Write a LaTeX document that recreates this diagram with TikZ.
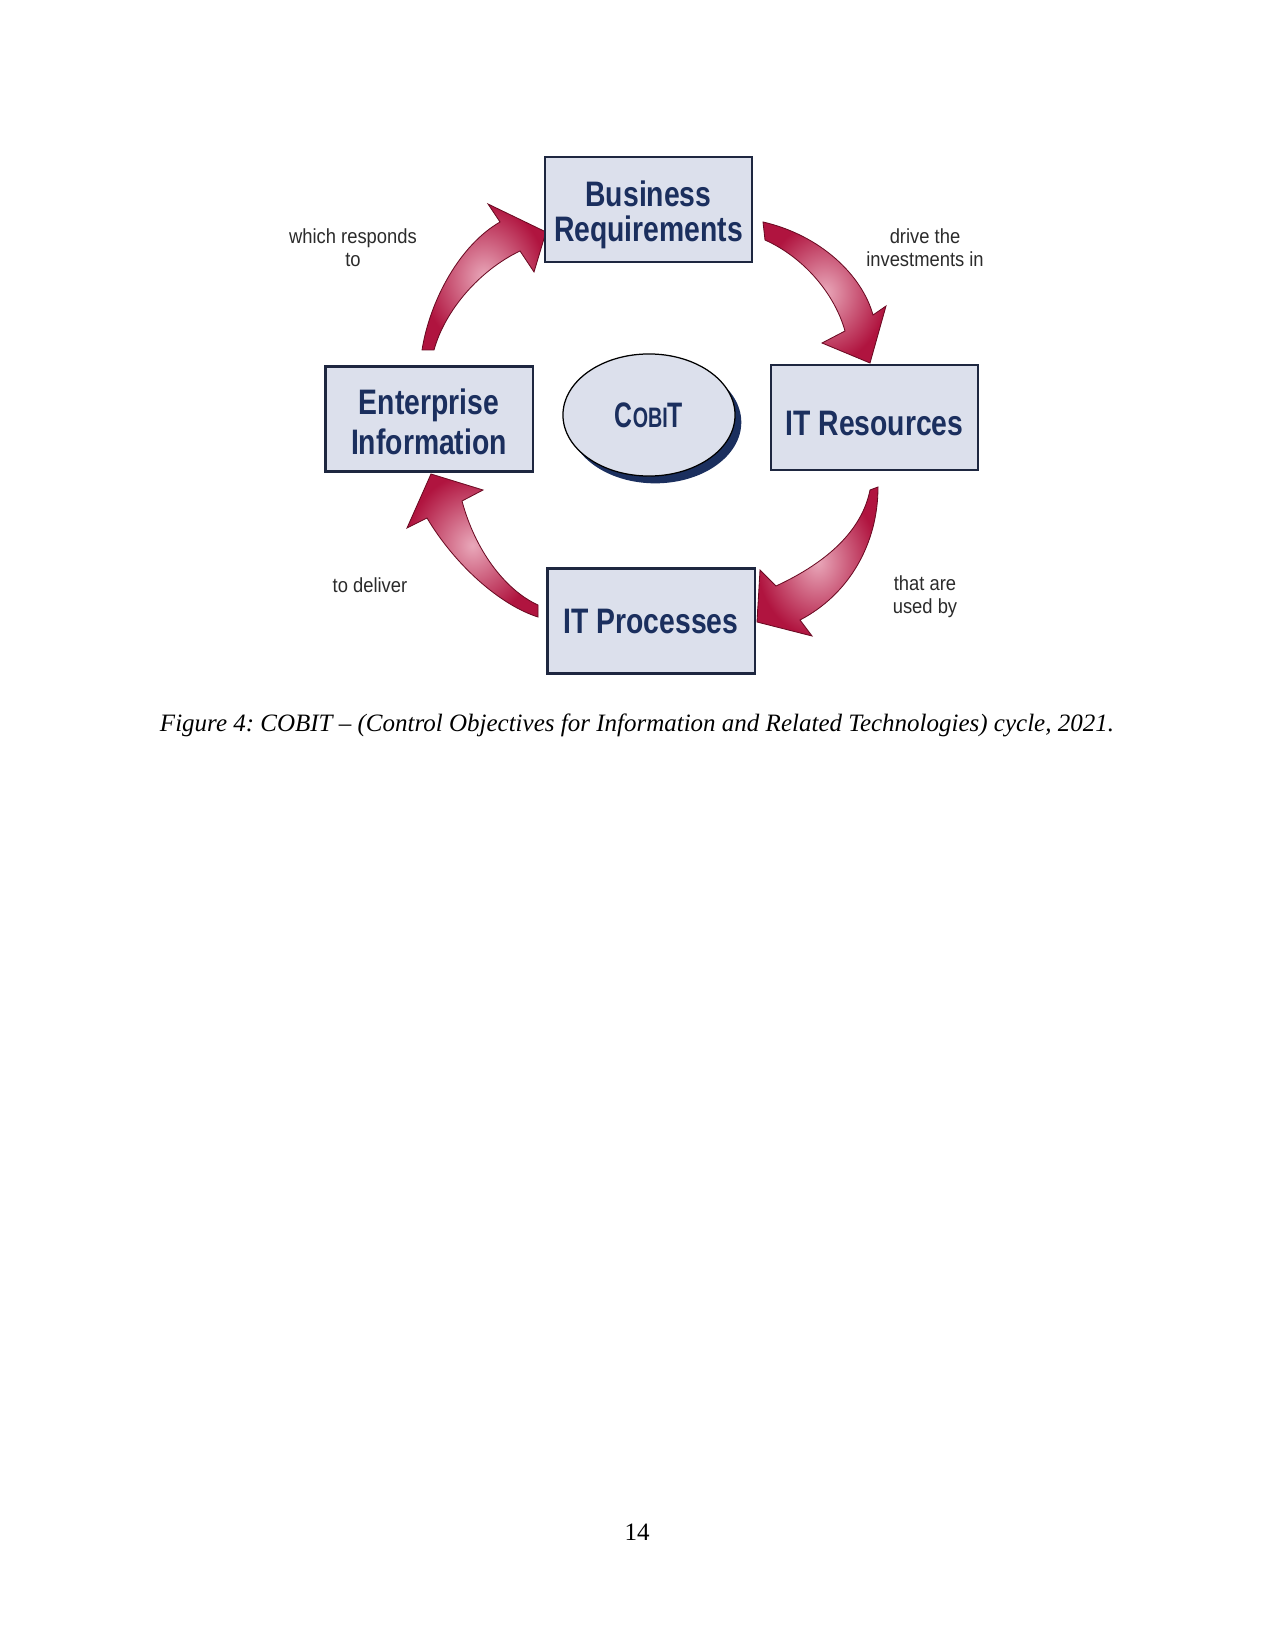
\documentclass[tikz,border=0pt]{standalone}
\usepackage{fontspec}
\setmainfont{Liberation Serif}
\newfontfamily\cobitsans[FakeStretch=0.8]{Liberation Sans}
\newfontfamily\cobitlogo[FakeStretch=0.7]{Liberation Sans}
\newfontfamily\cobitnote[FakeStretch=0.9]{Liberation Sans}
\usetikzlibrary{shapes.geometric,shadows}

\definecolor{cobitnavy}{HTML}{1B2F5E}
\definecolor{boxfill}{HTML}{DCE0EC}
\definecolor{boxline}{HTML}{1E2740}
\definecolor{arrowred}{HTML}{B0143F}
\definecolor{arrowpink}{HTML}{E9A8BA}
\definecolor{arrowedge}{HTML}{6A0A22}
\definecolor{notegray}{HTML}{2B2B2B}

\frenchspacing
\begin{document}
\begin{tikzpicture}[
  x=0.48pt,y=-0.48pt,
  block/.style={rectangle,draw=boxline,line width=1.1pt,fill=boxfill,
    minimum width=99.5pt,minimum height=50.5pt,inner sep=0pt,align=center,
    text=cobitnavy,font=\cobitsans\bfseries\fontsize{17}{16.8}\selectfont},
  note/.style={align=center,text=notegray,
    font=\cobitnote\fontsize{9.8}{11.2}\selectfont},
  flow/.style={draw=arrowedge,line width=0.4pt,inner color=arrowpink,
    outer color=arrowred}
]
  \useasboundingbox[fill=white] (0,0) rectangle (1275,1650);

  % curved arrows of the cycle
  \draw[flow] (434,350) .. controls (445,310) and (480,270) .. (520,251)
    -- (534,272) -- (546,232) -- (488,204) -- (500,222)
    .. controls (460,245) and (430,300) .. (422,350) -- cycle;
  \draw[flow] (763,222) .. controls (820,235) and (862,275) .. (873,315)
    -- (886,306) -- (870,363) -- (822,343) -- (845,331)
    .. controls (835,295) and (805,258) .. (765,240) -- cycle;
  \draw[flow] (878,487) .. controls (878,545) and (848,595) .. (800,620)
    -- (812,636) -- (757,622) -- (760,570) -- (776,586)
    .. controls (828,562) and (862,530) .. (870,490) -- cycle;
  \draw[flow] (538,617) .. controls (500,605) and (455,565) .. (427,518)
    -- (407,528) -- (431,474) -- (483,490) -- (462,501)
    .. controls (475,550) and (505,590) .. (538,605) -- cycle;

  \node[block] (br) at (648.5,209.5) {\rule{0pt}{17pt}Business\\Requirements};
  \node[block] (itr) at (874.5,417.5) {\rule{0pt}{17.2pt}IT Resources};
  \node[block] (itp) at (651,621) {IT Processes};
  \node[block,font=\cobitsans\bfseries\fontsize{17}{19.5}\selectfont]
    (ei) at (429,419) {\rule{0pt}{15.2pt}Enterprise\\Information};

  \node[ellipse,draw=black,line width=0.6pt,fill=boxfill,inner sep=0pt,
    minimum width=82.6pt,minimum height=58.6pt,text=cobitnavy,
    drop shadow={shadow xshift=3pt,shadow yshift=-3.5pt,fill=cobitnavy,opacity=1},
    font=\cobitlogo\bfseries] (cobit) at (649,415)
    {{\fontsize{17}{17}\selectfont C}{\fontsize{13.5}{17}\selectfont OBI}{\fontsize{17}{17}\selectfont T}};

  \node[note] (n1) at (353,248) {which responds\\to};
  \node[note] (n2) at (925,248) {drive the\\investments in};
  \node[note] (n3) at (925,597) {that are\\used by};
  \node[note] (n4) at (370,585) {to deliver};

  \node[font=\fontsize{12}{14}\selectfont\itshape] (cap) at (637,725)
    {Figure 4: COBIT – (Control Objectives for Information and Related Technologies) cycle, 2021.};
  \node[font=\fontsize{12}{14}\selectfont] (page) at (637,1532) {14};
\end{tikzpicture}
\end{document}
